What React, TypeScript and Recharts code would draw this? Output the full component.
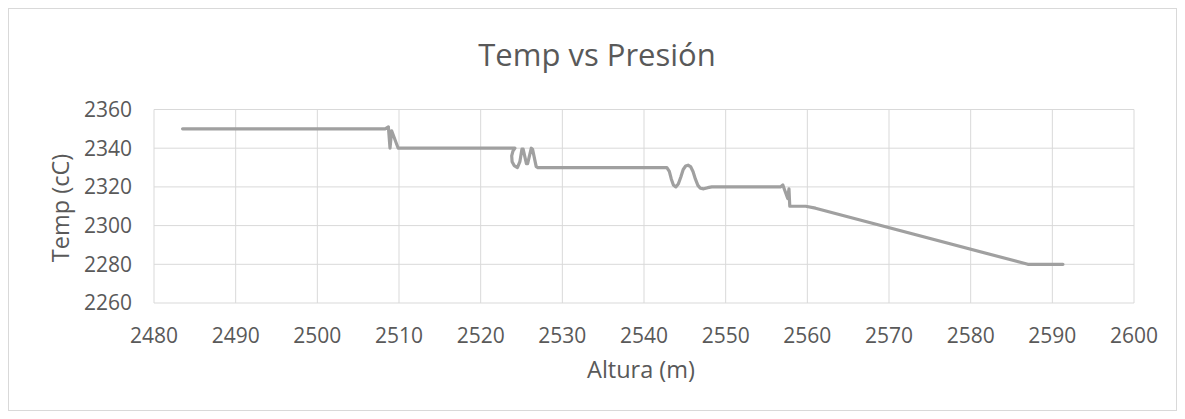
import React from 'react';
import { LineChart, Line, XAxis, YAxis, CartesianGrid } from 'recharts';

const altura = [
  2483.5, 2508.3, 2508.7, 2508.9, 2509.1, 2509.9,
  2524.2, 2523.95, 2523.8, 2523.85, 2524.1, 2524.5, 2524.8, 2525.05, 2525.2, 2525.6, 2525.75, 2526.2, 2526.35, 2526.8, 2527.0,
  2542.8, 2543.1, 2543.35, 2543.6, 2543.9, 2544.2, 2544.5, 2544.8, 2545.1, 2545.4, 2545.7, 2546.0, 2546.3, 2546.6, 2546.9, 2547.3, 2547.8, 2548.3,
  2556.7, 2557.0, 2557.6, 2557.75, 2557.85, 2559.8, 2561.0, 2587.0, 2591.3,
];
const temp = [
  2350, 2350, 2351, 2340, 2349, 2340,
  2340, 2338.5, 2336, 2333, 2331, 2330, 2333, 2339.5, 2339.5, 2332, 2332, 2340, 2339.5, 2330.5, 2330,
  2330, 2328, 2324, 2321, 2320, 2321.5, 2325, 2329, 2330.8, 2331.2, 2330.5, 2328, 2324, 2320.8, 2319.3, 2319, 2319.6, 2320,
  2320, 2321, 2314, 2319, 2310, 2310, 2309, 2280, 2280,
];
const xTicks = [2480, 2490, 2500, 2510, 2520, 2530, 2540, 2550, 2560, 2570, 2580, 2590, 2600];
const yTicks = [2260, 2280, 2300, 2320, 2340, 2360];
const chartTitle = 'Temp vs Presión';
const xTitle = 'Altura (m)';
const yTitle = 'Temp (cC)';

const data = altura.map((x, i) => ({ x, y: temp[i] }));

const FONT = '"Open Sans", sans-serif';
const TEXT = '#595959';

export default function App() {
  return (
    <div
      style={{
        position: 'relative',
        width: 1169,
        height: 403,
        outline: '1px solid #d9d9d9',
        outlineOffset: -1,
        fontFamily: FONT,
        background: '#fff',
      }}
    >
      <div
        style={{
          position: 'absolute',
          left: 589,
          top: 31,
          transform: 'translateX(-50%)',
          fontSize: 31,
          lineHeight: '31px',
          color: TEXT,
          whiteSpace: 'nowrap',
          zIndex: 2,
        }}
      >
        {chartTitle}
      </div>
      <div
        style={{
          position: 'absolute',
          left: 633,
          top: 350,
          transform: 'translateX(-50%)',
          fontSize: 23.5,
          lineHeight: '23.5px',
          color: TEXT,
          whiteSpace: 'nowrap',
          zIndex: 2,
        }}
      >
        {xTitle}
      </div>
      <div
        style={{
          position: 'absolute',
          left: 53,
          top: 199.5,
          transform: 'translate(-50%, -50%) rotate(-90deg)',
          fontSize: 23.5,
          lineHeight: '23.5px',
          color: TEXT,
          whiteSpace: 'nowrap',
          zIndex: 2,
        }}
      >
        {yTitle}
      </div>
      <LineChart
        width={1169}
        height={403}
        data={data}
        margin={{ top: 101.5, right: 43, bottom: 48, left: 66 }}
      >
        <CartesianGrid stroke="#d9d9d9" strokeWidth={1} />
        <XAxis
          type="number"
          dataKey="x"
          domain={[2480, 2600]}
          ticks={xTicks}
          interval={0}
          axisLine={false}
          tickLine={false}
          tickMargin={19}
          height={60}
          allowDataOverflow
          tick={{ fill: TEXT, fontSize: 21, fontFamily: FONT }}
        />
        <YAxis
          type="number"
          domain={[2260, 2360]}
          ticks={yTicks}
          interval={0}
          axisLine={false}
          tickLine={false}
          tickMargin={16}
          width={80}
          allowDataOverflow
          tick={{ fill: TEXT, fontSize: 21, fontFamily: FONT }}
        />
        <Line
          type="linear"
          dataKey="y"
          stroke="#a0a0a0"
          strokeWidth={3.2}
          strokeLinejoin="round"
          strokeLinecap="round"
          dot={false}
          activeDot={false}
          isAnimationActive={false}
        />
      </LineChart>
    </div>
  );
}
